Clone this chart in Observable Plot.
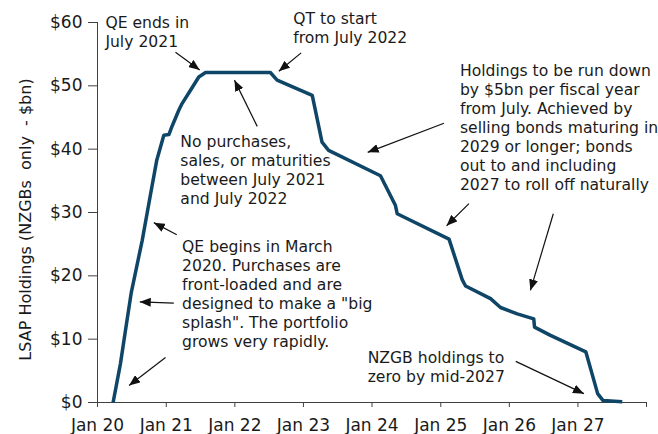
<!DOCTYPE html>
<html><head><meta charset="utf-8">
<script src="https://cdn.jsdelivr.net/npm/d3@7"></script>
<script src="https://cdn.jsdelivr.net/npm/@observablehq/plot@0.6"></script>
<style>
html,body{margin:0;padding:0;background:#fff;}
svg text{white-space:pre;}
</style></head><body><div id="chart"></div>
<script>
// --- data ---
const dates = ["2020-03-24","2020-05-02","2020-05-29","2020-06-29","2020-08-26","2020-10-10","2020-11-11","2020-12-19","2021-01-15","2021-02-02","2021-03-08","2021-03-26","2021-05-10","2021-06-23","2021-07-29","2022-07-09","2022-08-14","2023-02-17","2023-04-10","2023-05-15","2024-02-15","2024-05-05","2024-05-14","2025-02-14","2025-04-25","2025-05-13","2025-09-23","2025-11-15","2026-02-12","2026-05-11","2026-05-15","2026-08-08","2027-02-12","2027-04-16","2027-05-15","2027-08-25"];
const holdings = [0,6.1,11.4,17.4,25.6,33.0,38.2,42.2,42.3,43.7,46.1,47.2,49.3,51.4,52.1,52.1,50.9,48.5,41.1,39.8,35.8,31.1,29.8,25.8,19.4,18.4,16.4,15.0,14.0,13.2,11.9,10.6,8.0,1.4,0.3,0.1];
const yTicks = [0,10,20,30,40,50,60];
const xTickYears = [2020,2021,2022,2023,2024,2025,2026,2027,2028];
const labeledYears = [2020,2021,2022,2023,2024,2025,2026,2027];
const yLabel = "LSAP Holdings (NZGBs  only  - $bn)";

const noteTexts = [
  "QE ends in\nJuly 2021",
  "QT to start\nfrom July 2022",
  "No purchases,\nsales, or maturities\nbetween July 2021\nand July 2022",
  "QE begins in March\n2020. Purchases are\nfront-loaded and are\ndesigned to make a \"big\nsplash\". The portfolio\ngrows very rapidly.",
  "Holdings to be run down\nby $5bn per fiscal year\nfrom July. Achieved by\nselling bonds maturing in\n2029 or longer; bonds\nout to and including\n2027 to roll off naturally",
  "NZGB holdings to\nzero by mid-2027"
];
const noteDates = ["2020-02-12","2022-11-08","2021-03-17","2021-03-26","2025-04-13","2023-12-09"];
const noteValues = [56.2,56.8,31.4,8.73,33.6,3.2];

const arrowFromDates = ["2021-02-19","2022-12-20","2022-04-30","2021-02-26","2021-02-10","2020-12-28","2025-01-18","2025-05-31","2026-08-23","2026-02-04"];
const arrowFromValues = [55.3,55.2,43.6,26.5,15.7,7.1,44.1,31.4,29.8,6.5];
const arrowToDates = ["2021-06-28","2022-08-23","2021-12-30","2020-10-27","2020-08-13","2020-06-17","2023-12-09","2025-02-01","2026-04-23","2027-02-02"];
const arrowToValues = [52.5,52.3,50.9,28.4,15.9,2.7,39.5,27.9,17.7,1.4];

// --- build tables ---
const parse = d3.utcParse("%Y-%m-%d");
const series = dates.map((d,i)=>({date: parse(d), value: holdings[i]}));
const notes = noteTexts.map((t,i)=>({text:t, date: parse(noteDates[i]), value: noteValues[i]}));
const arrows = arrowFromDates.map((d,i)=>({x1: parse(d), y1: arrowFromValues[i], x2: parse(arrowToDates[i]), y2: arrowToValues[i]}));
const xTicks = xTickYears.map(y=>new Date(Date.UTC(y,0,1)));

const ink = "#1a1a1a";
const chart = Plot.plot({
  width: 658, height: 434,
  marginLeft: 97, marginRight: 12, marginTop: 22, marginBottom: 32,
  style: {fontFamily: "DejaVu Sans, Verdana, sans-serif", fontSize: "17px", color: ink, background: "#fff", overflow: "visible"},
  x: {type: "utc", domain: [xTicks[0], xTicks[xTicks.length-1]], label: null},
  y: {domain: [0, 60], label: null},
  marks: [
    Plot.axisX(xTicks, {tickSize: 5, tickPadding: 11, fontSize: 17, stroke: "#404040",
      tickFormat: d => labeledYears.includes(d.getUTCFullYear()) ? "Jan " + String(d.getUTCFullYear()).slice(2) : "", label: null}),
    Plot.axisY(yTicks, {tickSize: 9, tickPadding: 6, fontSize: 17, stroke: "#404040", tickFormat: d => "$" + d, label: null}),
    Plot.ruleY([0], {stroke: "#404040", strokeWidth: 1}),
    Plot.ruleX([xTicks[0]], {y1: 0, y2: 60, stroke: "#404040", strokeWidth: 1}),
    Plot.text([yLabel], {frameAnchor: "left", textAnchor: "middle", lineAnchor: "middle", rotate: -90, dx: -72, dy: 7, text: d => d, fontSize: 16, fill: ink}),
    Plot.line(series, {x: "date", y: "value", stroke: "#0f4567", strokeWidth: 3.5, strokeLinejoin: "round", strokeLinecap: "butt"}),
    Plot.link(arrows, {x1: "x1", y1: "y1", x2: "x2", y2: "y2", stroke: "#111", strokeWidth: 1.2}),
    Plot.text(notes, {x: "date", y: "value", text: "text", textAnchor: "start", lineAnchor: "bottom", lineHeight: 1.22, fontSize: 15.6, fill: ink})
  ]
});

// filled arrowheads
const svg = d3.select(chart);
const defs = svg.insert("defs", ":first-child");
defs.append("marker").attr("id", "ahead").attr("viewBox", "0 0 11 9")
  .attr("refX", 11).attr("refY", 4.5).attr("markerWidth", 11).attr("markerHeight", 9)
  .attr("markerUnits", "userSpaceOnUse").attr("orient", "auto")
  .append("path").attr("d", "M0,0L11,4.5L0,9Z").attr("fill", "#111");
svg.selectAll('g[aria-label="link"] path').attr("marker-end", "url(#ahead)");

document.getElementById("chart").appendChild(chart);
</script></body></html>
